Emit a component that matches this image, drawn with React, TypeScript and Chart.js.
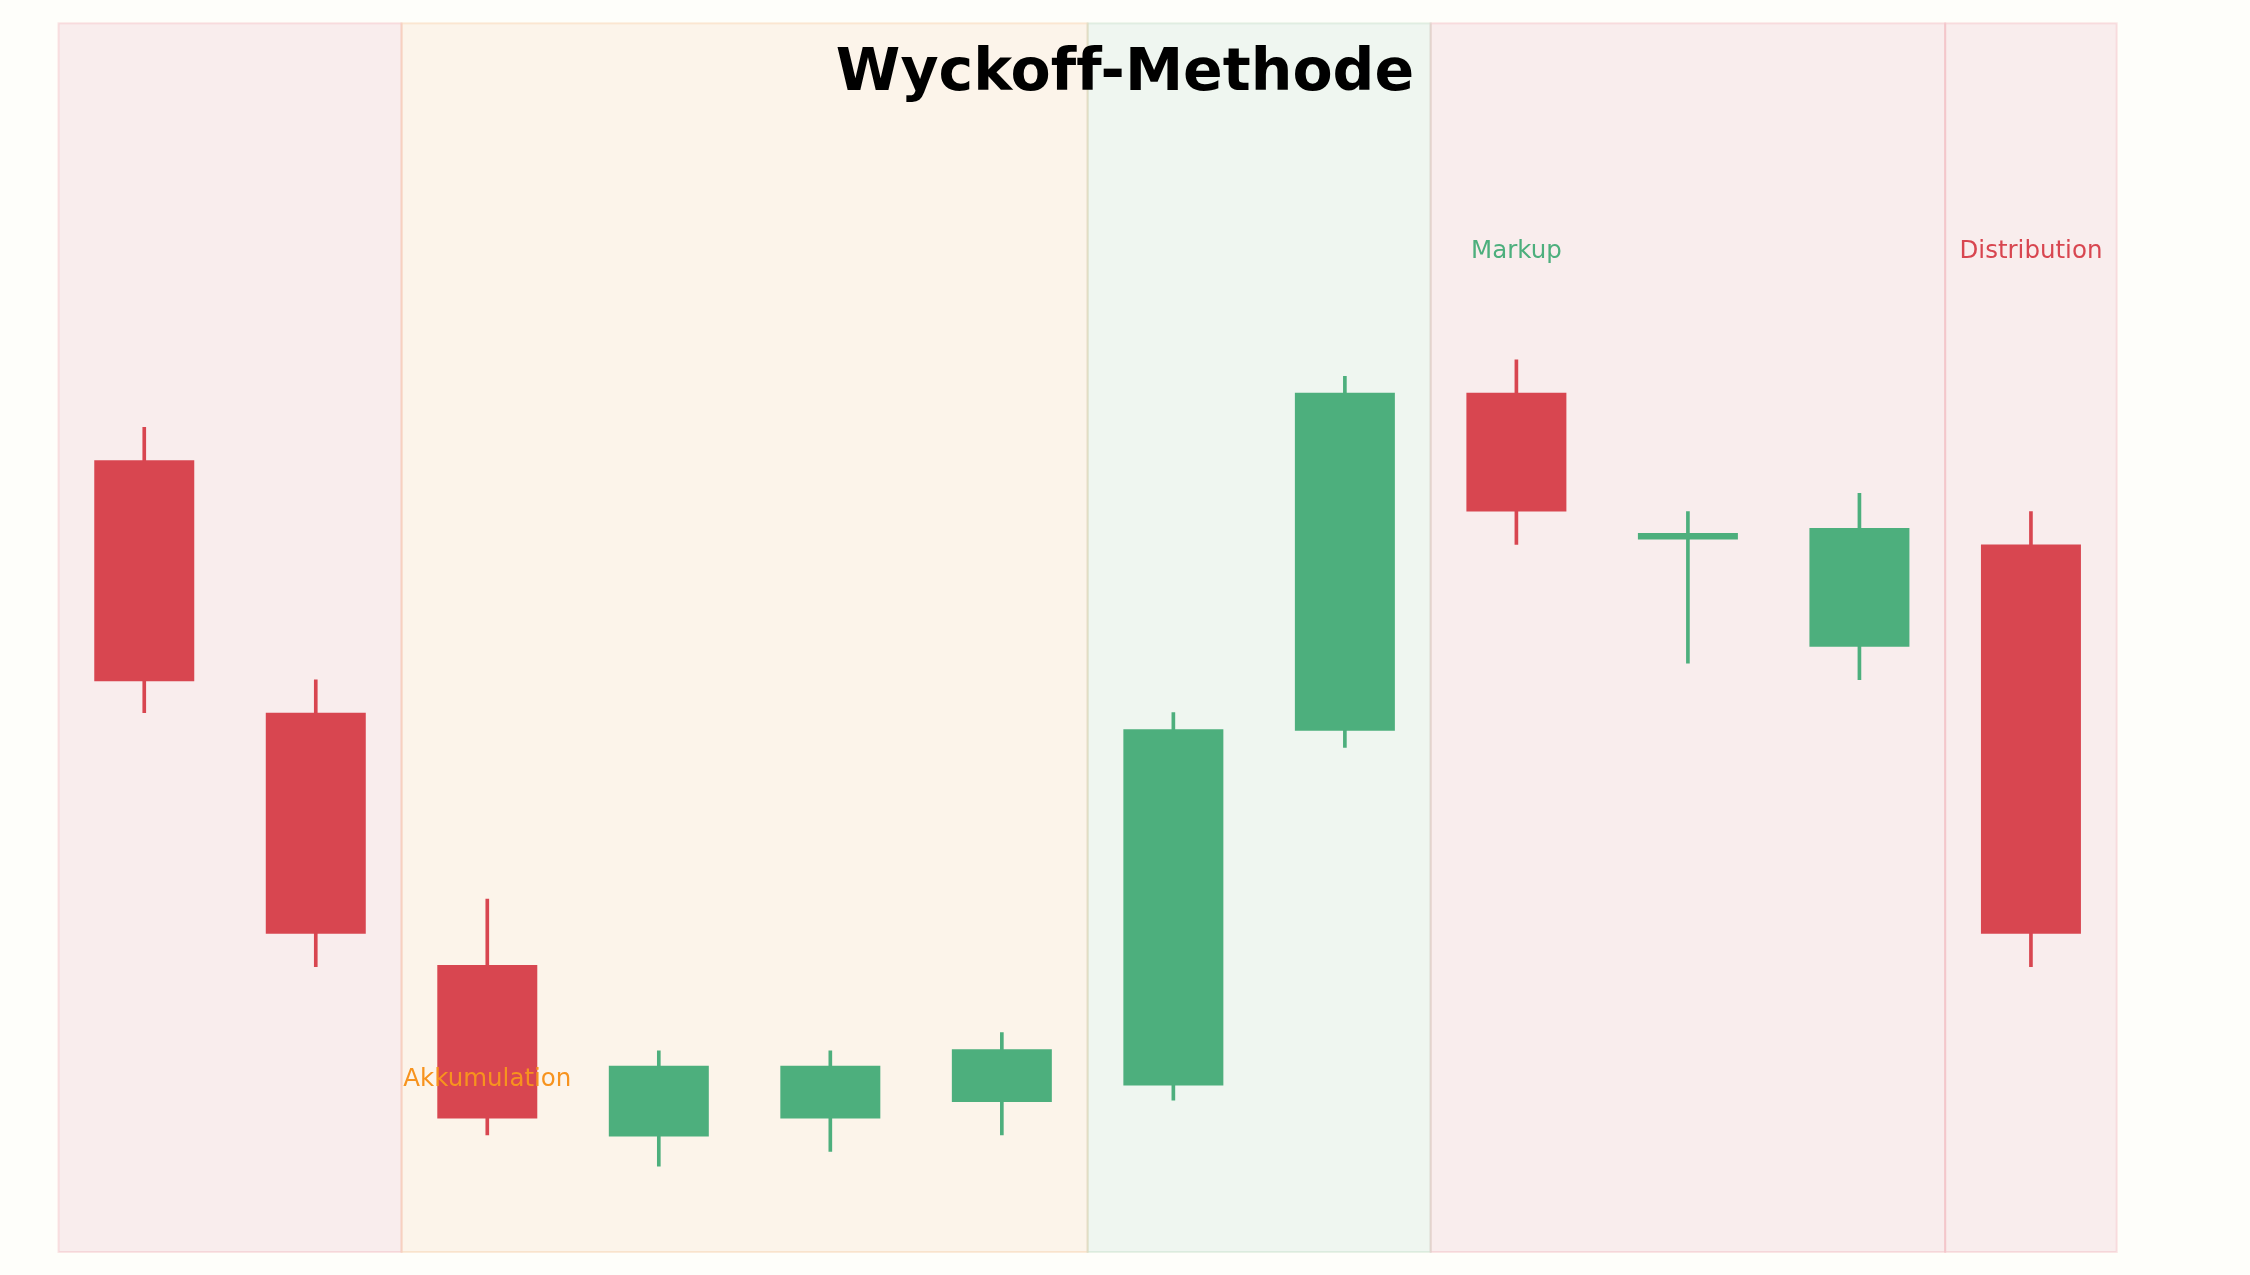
import React, { useEffect, useRef } from "react";
import { Chart, registerables } from "chart.js";

Chart.register(...registerables);

// Kerzen (Tage 1..12)
const days = ["1", "2", "3", "4", "5", "6", "7", "8", "9", "10", "11", "12"];
const openPrices = [123.0, 107.7, 92.4, 82.0, 83.1, 84.1, 85.1, 106.6, 127.1, 118.2, 111.7, 117.9];
const highPrices = [125.0, 109.7, 96.4, 87.2, 87.2, 88.3, 107.7, 128.1, 129.1, 119.9, 121.0, 119.9];
const lowPrices = [107.7, 92.3, 82.1, 80.2, 81.1, 82.1, 84.2, 105.6, 117.9, 110.7, 109.7, 92.3];
const closePrices = [109.6, 94.3, 83.1, 86.3, 86.3, 87.3, 106.7, 127.1, 119.9, 118.6, 118.9, 94.3];

// Phasen (Index-Bereiche der Kerzen)
const phaseStart = [0, 2, 6, 8, 11];
const phaseEnd = [1, 5, 7, 10, 11];
const phaseKind = ["down", "acc", "up", "down", "down"];

// Beschriftungen (Kerzen-Index, Preis der Grundlinie)
const noteTexts = ["Akkumulation", "Markup", "Distribution"];
const noteIndex = [2, 8, 11];
const notePrice = [85.06, 135.25, 135.25];
const noteKind = ["acc", "up", "down"];

const Y_MIN = 75;
const Y_MAX = 149.5;

const RED = "#D84650";
const GREEN = "#4DAF7D";
const ORANGE = "#F7931E";
const PAGE_BG = "#FEFEFA";

const bandFill: Record<string, string> = {
  down: "#F9EDED",
  acc: "#FCF4EA",
  up: "#EFF6F0",
};
const bandEdge: Record<string, string> = {
  down: "rgba(225, 80, 100, 0.14)",
  acc: "rgba(240, 150, 70, 0.18)",
  up: "rgba(120, 180, 130, 0.16)",
};
const noteColor: Record<string, string> = {
  acc: ORANGE,
  up: GREEN,
  down: RED,
};

const phaseBands = {
  id: "phaseBands",
  beforeDatasetsDraw(chart: any) {
    const { ctx, chartArea, scales } = chart;
    const x = scales.x;
    ctx.save();
    const rects = phaseStart.map((s, i) => {
      const left = x.getPixelForValue(s - 0.5);
      const right = x.getPixelForValue(phaseEnd[i] + 0.5);
      return [left, chartArea.top, right - left, chartArea.bottom - chartArea.top];
    });
    rects.forEach((r, i) => {
      ctx.fillStyle = bandFill[phaseKind[i]];
      ctx.fillRect(r[0], r[1], r[2], r[3]);
    });
    ctx.lineWidth = 2;
    rects.forEach((r, i) => {
      ctx.strokeStyle = bandEdge[phaseKind[i]];
      ctx.strokeRect(r[0], r[1], r[2], r[3]);
    });
    ctx.restore();
  },
};

const phaseNotes = {
  id: "phaseNotes",
  afterDatasetsDraw(chart: any) {
    const { ctx, scales, width } = chart;
    ctx.save();
    ctx.textRendering = "optimizeSpeed"; // keine ff-Ligatur
    ctx.textAlign = "center";
    ctx.textBaseline = "alphabetic";
    ctx.font = "24.5px 'DejaVu Sans'";
    noteTexts.forEach((t, i) => {
      ctx.fillStyle = noteColor[noteKind[i]];
      ctx.fillText(t, scales.x.getPixelForValue(noteIndex[i]), scales.y.getPixelForValue(notePrice[i]));
    });
    ctx.font = "bold 58.5px 'DejaVu Sans'";
    ctx.fillStyle = "#000000";
    ctx.fillText("Wyckoff-Methode", width / 2, 90);
    ctx.restore();
  },
};

const WyckoffChart: React.FC = () => {
  const canvasRef = useRef<HTMLCanvasElement>(null);

  useEffect(() => {
    if (!canvasRef.current) return;
    const ctx = canvasRef.current.getContext("2d")!;

    const colors = openPrices.map((o, i) => (closePrices[i] >= o ? GREEN : RED));

    const chart = new Chart(ctx, {
      type: "bar",
      data: {
        labels: days,
        datasets: [
          {
            label: "Körper",
            data: openPrices.map((o, i) => [o, closePrices[i]]),
            backgroundColor: colors,
            borderWidth: 0,
            grouped: false,
            categoryPercentage: 1,
            barPercentage: 0.583,
          },
          {
            label: "Docht",
            data: lowPrices.map((l, i) => [l, highPrices[i]]),
            backgroundColor: colors,
            borderWidth: 0,
            grouped: false,
            barThickness: 3,
          },
        ],
      },
      options: {
        responsive: false,
        animation: false,
        devicePixelRatio: 1,
        layout: {
          padding: { left: 58.5, right: 133.3, top: 23.3, bottom: 23 },
        },
        scales: {
          x: { display: false, offset: true },
          y: { display: false, min: Y_MIN, max: Y_MAX },
        },
        plugins: {
          legend: { display: false },
          tooltip: { enabled: false },
        },
      },
      plugins: [phaseBands, phaseNotes],
    });

    return () => {
      chart.destroy();
    };
  }, []);

  return <canvas ref={canvasRef} width={2250} height={1275} style={{ display: "block" }}></canvas>;
};

export default function App() {
  return (
    <div
      style={{
        position: "fixed",
        left: 0,
        top: 0,
        width: 2250,
        height: 1275,
        background: PAGE_BG,
      }}
    >
      <WyckoffChart />
    </div>
  );
}
